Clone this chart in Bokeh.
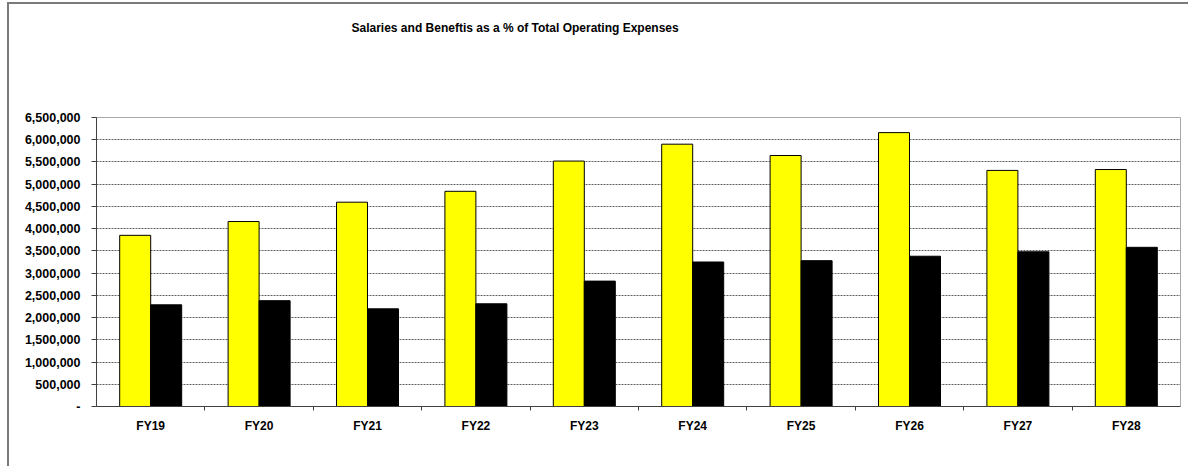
from bokeh.plotting import figure
from bokeh.models import FixedTicker, Range1d, Title
from bokeh.embed import file_html
from bokeh.resources import INLINE

categories = ["FY19", "FY20", "FY21", "FY22", "FY23", "FY24", "FY25", "FY26", "FY27", "FY28"]
salaries = [3850000, 4160000, 4595000, 4840000, 5520000, 5900000, 5645000, 6160000, 5310000, 5330000]
other = [2287000, 2380000, 2197000, 2310000, 2820000, 3250000, 3280000, 3380000, 3480000, 3580000]
y_ticks = [0, 500000, 1000000, 1500000, 2000000, 2500000, 3000000, 3500000,
           4000000, 4500000, 5000000, 5500000, 6000000, 6500000]
title_text = "Salaries and Beneftis as a % of Total Operating Expenses"

n = len(categories)
centers = [i + 0.5 for i in range(n)]
bw = 0.286

p = figure(width=1181, height=464, output_backend="svg", toolbar_location=None,
           x_range=Range1d(0, n), y_range=Range1d(0, 6500000),
           min_border_left=87, min_border_right=10, min_border_top=113, min_border_bottom=62,
           title=None)
p.styles = {"margin-top": "2px", "margin-left": "7px"}
p.stylesheets = [":host { border-top: 2px solid #7a7a7a; border-left: 2px solid #7a7a7a; }"]

p.vbar(x=[c - bw / 2 for c in centers], top=salaries, width=bw, bottom=0,
       fill_color="#FFFF00", line_color="#000000", line_width=1)
p.vbar(x=[c + bw / 2 for c in centers], top=other, width=bw, bottom=0,
       fill_color="#000000", line_color="#000000", line_width=1)

spacer = Title(text=" ", standoff=62, text_font_size="12px")
p.add_layout(spacer, "above")
t = Title(text=title_text, align="left", offset=255, standoff=10,
          text_font="Liberation Sans", text_font_size="12px", text_font_style="bold",
          text_color="#000000")
p.add_layout(t, "above")

# y axis
p.yaxis.ticker = FixedTicker(ticks=y_ticks)
p.yaxis.major_label_overrides = {v: ("-" if v == 0 else f"{v:,}") for v in y_ticks}
p.yaxis.major_label_text_font = "Liberation Sans"
p.yaxis.major_label_text_font_style = "bold"
p.yaxis.major_label_text_font_size = "12.5px"
p.yaxis.major_label_text_color = "#000000"
p.yaxis.major_label_standoff = 11
p.yaxis.major_tick_out = 5
p.yaxis.major_tick_in = 0
p.yaxis.minor_tick_line_color = None
p.yaxis.axis_line_color = "#404040"
p.yaxis.major_tick_line_color = "#404040"

# x axis
p.xaxis.ticker = FixedTicker(ticks=centers, minor_ticks=list(range(1, n)))
p.xaxis.major_label_overrides = {c: lab for c, lab in zip(centers, categories)}
p.xaxis.major_label_text_font = "Liberation Sans"
p.xaxis.major_label_text_font_style = "bold"
p.xaxis.major_label_text_font_size = "12px"
p.xaxis.major_label_text_color = "#000000"
p.xaxis.major_label_standoff = 6
p.xaxis.major_tick_line_color = None
p.xaxis.minor_tick_out = 4
p.xaxis.minor_tick_in = 0
p.xaxis.minor_tick_line_color = "#404040"
p.xaxis.axis_line_color = "#404040"

p.xgrid.grid_line_color = None
p.ygrid.grid_line_color = "#606060"
p.ygrid.grid_line_dash = "2 1"
p.ygrid.grid_line_width = 1

p.outline_line_color = "#a8a8a8"
p.outline_line_width = 1
p.background_fill_color = "white"
p.border_fill_color = "white"

open("out.html", "w").write(file_html(p, INLINE))
